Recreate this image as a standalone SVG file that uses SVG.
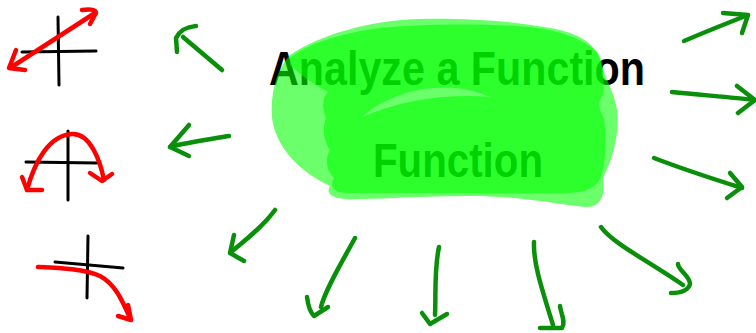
<svg xmlns="http://www.w3.org/2000/svg" width="756" height="333" viewBox="0 0 756 333">
<style>
.ax{fill:none;stroke:#000;stroke-width:3;stroke-linecap:round;stroke-linejoin:round}
.rd{fill:none;stroke:#ff0000;stroke-width:4.5;stroke-linecap:round;stroke-linejoin:round}
.gr{fill:none;stroke:#0a8f0a;stroke-width:4.5;stroke-linecap:round;stroke-linejoin:round}
.hl{fill:#00ff00;fill-opacity:0.58;stroke:none}
.tx{font-family:"Liberation Sans",Arial,sans-serif;font-weight:bold;font-size:49px;fill:#000}
</style>
<rect width="756" height="333" fill="#fff"/>
<g id="graph-line">
<path class="ax" d="M58,17 L59,85"/>
<path class="ax" d="M22,52 L96,51"/>
<path class="rd" d="M10,68 L95,13"/>
<path class="rd" d="M16,50 L9,68 L25,70"/>
<path class="rd" d="M82,10 C88,9 96,9 96,13 L90,24"/>
</g>
<g id="graph-parabola">
<path class="ax" d="M68,131 L68,200"/>
<path class="ax" d="M26,162 L97,163"/>
<path class="rd" d="M27,190 C35,160 50,135 72,134 C90,133 100,160 104,180"/>
<path class="rd" d="M22,177 L27,190 L42,190"/>
<path class="rd" d="M90,173 L102,181 L112,174"/>
</g>
<g id="graph-cubic">
<path class="ax" d="M88,236 L87,298"/>
<path class="ax" d="M55,262 L123,268"/>
<path class="rd" d="M38,267 C60,268 85,269 100,276 C115,284 122,300 130,318"/>
<path class="rd" d="M118,316 L131,320 L128,305"/>
</g>
<g id="title">
<text class="tx" x="269" y="85" textLength="376" lengthAdjust="spacingAndGlyphs">Analyze a Function</text>
<text class="tx" x="373" y="177" textLength="170" lengthAdjust="spacingAndGlyphs">Function</text>
</g>
<g id="highlight">
<path class="hl" d="M290,55 C320,35 370,20 420,19 C470,18 520,22 550,28 C575,32 595,42 600,60 C604,78 614,90 617,110 C620,135 612,160 603,178 C606,196 600,208 585,207 C555,204 520,196 470,196 C420,196 370,200 345,199 C330,198 326,192 330,186 C300,172 276,148 272,118 C270,90 278,68 290,55 Z"/>
<path class="hl" fill-rule="evenodd" d="M290,58 C305,45 340,33 380,28 C420,24 480,23 530,27 C560,30 585,40 597,52 C604,60 604,80 603,95 C598,100 598,110 604,118 C606,135 606,160 602,172 C600,185 590,192 570,193 C520,194 420,193 345,193 C332,192 330,185 334,178 C326,170 325,158 330,150 C324,142 322,128 326,118 C322,108 322,98 328,92 C315,85 300,75 290,65 Z M362,117 C385,95 440,75 490,97 C450,93 400,100 362,117 Z"/>
</g>
<g id="connectors">
<path class="gr" d="M222,70 L183,37"/>
<path class="gr" d="M196,26 C186,27 180,30 176,38 L177,52"/>
<path class="gr" d="M229,136 C205,140 185,143 170,147"/>
<path class="gr" d="M189,125 L170,147 L189,156"/>
<path class="gr" d="M275,210 C262,228 245,240 231,252"/>
<path class="gr" d="M234,235 L230,253 L244,261"/>
<path class="gr" d="M355,238 C342,262 325,290 321,307"/>
<path class="gr" d="M307,297 C308,305 310,312 314,316 L328,307"/>
<path class="gr" d="M439,247 C434,270 436,295 435,315"/>
<path class="gr" d="M422,313 L430,324 L447,314"/>
<path class="gr" d="M534,242 C533,265 544,295 553,325"/>
<path class="gr" d="M560,306 C561,314 566,322 562,328 L540,328"/>
<path class="gr" d="M601,227 C612,243 650,262 683,285"/>
<path class="gr" d="M678,264 C678,270 690,276 690,284 C688,291 680,293 671,293"/>
<path class="gr" d="M684,41 C705,32 725,24 748,15"/>
<path class="gr" d="M723,13 L748,15 L742,33"/>
<path class="gr" d="M672,92 C700,95 730,97 755,100"/>
<path class="gr" d="M737,86 L755,100 L738,113"/>
<path class="gr" d="M654,158 C680,168 710,178 742,188"/>
<path class="gr" d="M730,173 L742,187 L727,198"/>
</g>
</svg>
